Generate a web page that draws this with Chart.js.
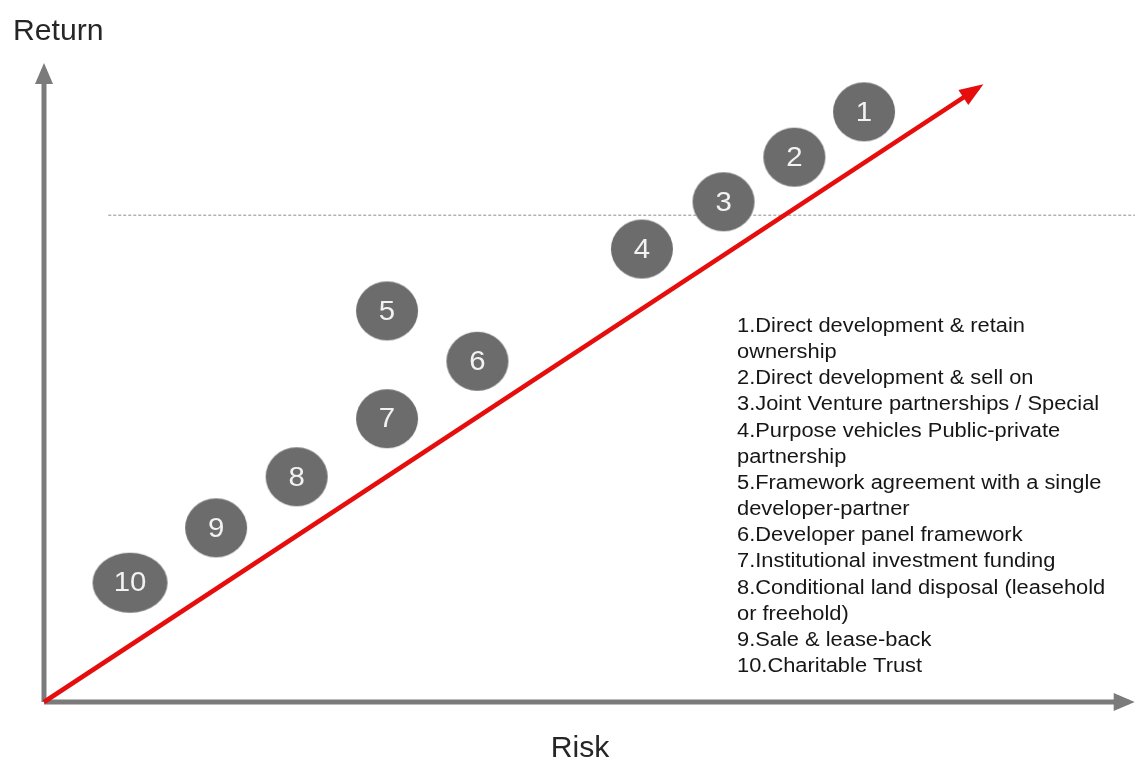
<!DOCTYPE html>
<html>
<head>
<meta charset="utf-8">
<title>Risk and Return</title>
<script src="https://cdn.jsdelivr.net/npm/chart.js@4"></script>
<style>
  html, body { margin: 0; padding: 0; background: #ffffff; }
  #wrap { width: 1135px; height: 760px; }
</style>
</head>
<body>
<div id="wrap"><canvas id="chart" width="1135" height="760"></canvas></div>
<script>
// Delivery options, numbered from highest return to lowest
const optionLabels = ['1', '2', '3', '4', '5', '6', '7', '8', '9', '10'];
const riskValues   = [75.3, 68.9, 62.4, 54.9, 31.5, 39.8, 31.5, 23.2, 15.8, 7.9];
const returnValues = [92.5, 85.4, 78.4, 71.0, 61.3, 53.4, 44.4, 35.3, 27.3, 18.7];

const optionNames = [
  '1.Direct development & retain',
  'ownership',
  '2.Direct development & sell on',
  '3.Joint Venture partnerships / Special',
  '4.Purpose vehicles Public-private',
  'partnership',
  '5.Framework agreement with a single',
  'developer-partner',
  '6.Developer panel framework',
  '7.Institutional investment funding',
  '8.Conditional land disposal (leasehold',
  'or freehold)',
  '9.Sale & lease-back',
  '10.Charitable Trust'
];

// Axis extents and the trend arrow, in risk / return units
const riskAxisEnd = 99.6;
const returnAxisEnd = 99.2;
const trendStart = [0, 0];
const trendEnd = [85.8, 96.3];
const thresholdReturn = 76.3;
const thresholdRisk = [5.9, 100.2];

const xTitle = 'Risk';
const yTitle = 'Return';

const AXIS_GREY = '#7b7b7b';
const TREND_RED = '#e60d0d';
const BUBBLE_GREY = '#6c6c6c';

// Oval marker sprite used as the point style
function ovalSprite(rx, ry) {
  const c = document.createElement('canvas');
  c.width = Math.ceil(rx * 2) + 2;
  c.height = Math.ceil(ry * 2) + 2;
  const g = c.getContext('2d');
  g.fillStyle = BUBBLE_GREY;
  g.beginPath();
  g.ellipse(c.width / 2, c.height / 2, rx, ry, 0, 0, Math.PI * 2);
  g.fill();
  return c;
}
const roundMarker = ovalSprite(31, 29.5);
const wideMarker = ovalSprite(37.5, 30);

// Draws an arrowhead past the last point of datasets flagged with `arrow`
const arrowHeads = {
  id: 'arrowHeads',
  afterDatasetsDraw(chart) {
    const ctx = chart.ctx;
    chart.data.datasets.forEach((ds, i) => {
      if (!ds.arrow) return;
      const pts = chart.getDatasetMeta(i).data;
      const a = pts[pts.length - 2], b = pts[pts.length - 1];
      const ang = Math.atan2(b.y - a.y, b.x - a.x);
      const { length, width, overshoot } = ds.arrow;
      const tx = b.x + Math.cos(ang) * overshoot;
      const ty = b.y + Math.sin(ang) * overshoot;
      ctx.save();
      ctx.translate(tx, ty);
      ctx.rotate(ang);
      ctx.fillStyle = ds.borderColor;
      ctx.beginPath();
      ctx.moveTo(0, 0);
      ctx.lineTo(-length, -width / 2);
      ctx.lineTo(-length, width / 2);
      ctx.closePath();
      ctx.fill();
      ctx.restore();
    });
  }
};

// Numbers inside the markers, axis titles and the numbered key
const textLayer = {
  id: 'textLayer',
  afterDatasetsDraw(chart) {
    const ctx = chart.ctx;
    const meta = chart.getDatasetMeta(0);
    ctx.save();
    ctx.fillStyle = '#f2f2f2';
    ctx.font = '28px "Liberation Sans", Arial, sans-serif';
    ctx.textAlign = 'center';
    ctx.textBaseline = 'middle';
    meta.data.forEach((pt, i) => {
      ctx.save();
      ctx.translate(pt.x, pt.y + 1);
      ctx.scale(1.05, 1);
      ctx.fillText(optionLabels[i], 0, 0);
      ctx.restore();
    });

    ctx.fillStyle = '#262626';
    ctx.textBaseline = 'alphabetic';
    ctx.font = '29px "Liberation Sans", Arial, sans-serif';
    ctx.textAlign = 'left';
    ctx.save();
    ctx.translate(13, 40);
    ctx.scale(1.04, 1);
    ctx.fillText(yTitle, 0, 0);
    ctx.restore();
    ctx.textAlign = 'center';
    ctx.save();
    ctx.translate(580, 757);
    ctx.scale(1.04, 1);
    ctx.fillText(xTitle, 0, 0);
    ctx.restore();

    ctx.fillStyle = '#161616';
    ctx.textAlign = 'left';
    ctx.font = '20px "Liberation Sans", Arial, sans-serif';
    const sx = 288 / ctx.measureText(optionNames[0]).width;
    optionNames.forEach((line, i) => {
      ctx.save();
      ctx.translate(737, 332 + i * 26.15);
      ctx.scale(sx, 1);
      ctx.fillText(line, 0, 0);
      ctx.restore();
    });
    ctx.restore();
  }
};

const chart = new Chart(document.getElementById('chart'), {
  type: 'scatter',
  data: {
    datasets: [
      {
        label: 'Options',
        data: riskValues.map((x, i) => ({ x, y: returnValues[i] })),
        pointStyle: (c) => (optionLabels[c.dataIndex] || '').length > 1 ? wideMarker : roundMarker,
        pointRadius: 30,
        order: 0
      },
      {
        label: 'Threshold',
        type: 'line',
        data: thresholdRisk.map((x) => ({ x, y: thresholdReturn })),
        borderColor: '#8e8e8e',
        borderWidth: 1,
        borderDash: [3, 2],
        pointRadius: 0,
        order: 3
      },
      {
        label: 'Trend',
        type: 'line',
        data: [{ x: trendStart[0], y: trendStart[1] }, { x: trendEnd[0], y: trendEnd[1] }],
        borderColor: TREND_RED,
        borderWidth: 4.5,
        pointRadius: 0,
        arrow: { length: 24, width: 18, overshoot: 6 },
        order: 1
      },
      {
        label: 'Return axis',
        type: 'line',
        data: [{ x: 0, y: 0 }, { x: 0, y: returnAxisEnd }],
        borderColor: AXIS_GREY,
        borderWidth: 5,
        pointRadius: 0,
        arrow: { length: 21, width: 18, overshoot: 6 },
        order: 2
      },
      {
        label: 'Risk axis',
        type: 'line',
        data: [{ x: 0, y: 0 }, { x: riskAxisEnd, y: 0 }],
        borderColor: AXIS_GREY,
        borderWidth: 5,
        pointRadius: 0,
        arrow: { length: 21, width: 18, overshoot: 6 },
        order: 2
      }
    ]
  },
  options: {
    responsive: false,
    animation: false,
    events: [],
    layout: { padding: 0, autoPadding: false },
    plugins: { legend: { display: false }, tooltip: { enabled: false } },
    scales: {
      x: { type: 'linear', display: false, min: -4.04, max: 100.18 },
      y: { type: 'linear', display: false, min: -9.09, max: 110.03 }
    }
  },
  plugins: [arrowHeads, textLayer]
});
</script>
</body>
</html>
